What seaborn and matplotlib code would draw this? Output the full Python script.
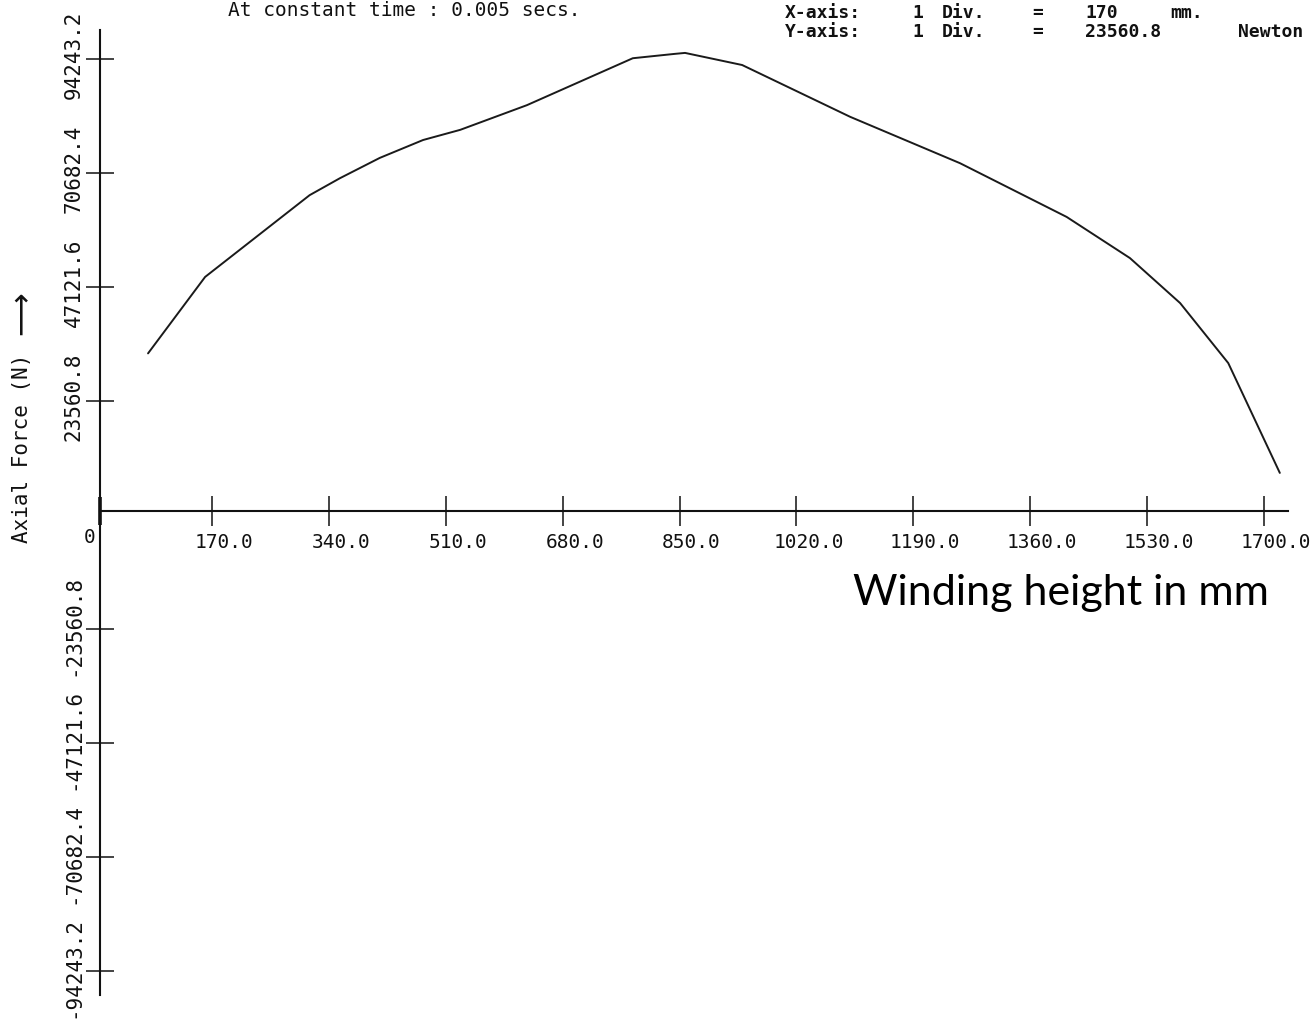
import numpy as np
import pandas as pd
import matplotlib
matplotlib.use("Agg")
import matplotlib.pyplot as plt
import matplotlib.transforms as mtransforms
import seaborn as sns

# ---------------- data ----------------
height_mm = [77, 160, 312, 356, 414, 477, 531, 628, 782, 843, 858, 941,
             1098, 1258, 1413, 1505, 1578, 1648, 1723]
axial_force_N = [33400, 49200, 66100, 69600, 73800, 77500, 79600, 84700,
                 94400, 95300, 95500, 93000, 82300, 72700, 61600, 53100,
                 43800, 31400, 8700]

x_ticks = [170, 340, 510, 680, 850, 1020, 1190, 1360, 1530, 1700]
x_tick_labels = ["170.0", "340.0", "510.0", "680.0", "850.0", "1020.0",
                 "1190.0", "1360.0", "1530.0", "1700.0"]
y_ticks = [-94243.2, -70682.4, -47121.6, -23560.8,
           23560.8, 47121.6, 70682.4, 94243.2]
y_tick_labels = ["-94243.2", "-70682.4", "-47121.6", "-23560.8",
                 "23560.8", "47121.6", "70682.4", "94243.2"]

title_text = "At constant time : 0.005 secs."
x_unit_words = ["X-axis:", "1", "Div.", "=", "170", "mm."]
y_unit_words = ["Y-axis:", "1", "Div.", "=", "23560.8", "Newton"]
y_label = "Axial Force (N)"
y_arrow = "\u27f6"
x_label = "Winding height in mm"

df = pd.DataFrame({"height": height_mm, "force": axial_force_N})

# ---------------- figure ----------------
sns.set_theme(style="white")
plt.rcParams["font.family"] = ["DejaVu Sans Mono", "DejaVu Sans"]

W, H = 1315, 1019
fig = plt.figure(figsize=(W / 100, H / 100), dpi=100)
fig.patch.set_facecolor("white")

ax_left_px, ax_right_px, ax_top_px, ax_bot_px = 100, 1288, 30, 995
ax = fig.add_axes([ax_left_px / W, 1 - ax_bot_px / H,
                   (ax_right_px - ax_left_px) / W, (ax_bot_px - ax_top_px) / H])
ax.set_facecolor("white")

x_lo, x_hi = 7.13, 1734.9
y_lo, y_hi = -99202, 100235
x_axis_y = 827

sns.lineplot(data=df, x="height", y="force", ax=ax, color="#1a1a1a",
             linewidth=1.4, sort=False)
ax.set_xlim(x_lo, x_hi)
ax.set_ylim(y_lo, y_hi)
ax.set_xlabel("")
ax.set_ylabel("")

for s in ["top", "right"]:
    ax.spines[s].set_visible(False)
ax.spines["bottom"].set_position(("data", x_axis_y))
for s in ["left", "bottom"]:
    ax.spines[s].set_color("#111111")
    ax.spines[s].set_linewidth(1.5)

ax.set_xticks(x_ticks)
ax.set_xticklabels(x_tick_labels)
ax.set_yticks(y_ticks)
ax.set_yticklabels(y_tick_labels)
ax.set_xticks([x_lo], minor=True)

ax.tick_params(axis="x", which="major", direction="inout", length=21, width=1.1,
               color="#111111", labelsize=14, pad=5, labelcolor="#111111",
               bottom=True)
ax.tick_params(axis="x", which="minor", direction="inout", length=20, width=2.6,
               color="#111111", bottom=True)
ax.tick_params(axis="y", which="major", direction="inout", length=19.5, width=1.1,
               color="#111111", labelsize=15, pad=2, labelcolor="#111111",
               left=True, labelrotation=90)

shift_x = mtransforms.ScaledTranslation(12 / 100, 0, fig.dpi_scale_trans)
for lab in ax.get_xticklabels():
    lab.set_transform(lab.get_transform() + shift_x)
shift_y = mtransforms.ScaledTranslation(0, 4 / 100, fig.dpi_scale_trans)
for lab in ax.get_yticklabels():
    lab.set_verticalalignment("center")
    lab.set_transform(lab.get_transform() + shift_y)

ax.annotate("0", xy=(0, x_axis_y), xycoords="data", xytext=(-5, -27),
            textcoords="offset pixels", ha="center", va="center",
            fontsize=14, color="#111111", annotation_clip=False)

# ---------------- texts ----------------
fig.text(228 / W, 1 - 16 / H, title_text, fontsize=14, va="baseline",
         color="#111111")

word_x = [785, 912, 942, 1032, 1085, 1170]
word_x_y = [785, 912, 942, 1032, 1085, 1238]
for wx, w in zip(word_x, x_unit_words):
    fig.text(wx / W, 1 - 18 / H, w, fontsize=13, fontweight="bold",
             va="baseline", color="#111111")
for wx, w in zip(word_x_y, y_unit_words):
    fig.text(wx / W, 1 - 37 / H, w, fontsize=13, fontweight="bold",
             va="baseline", color="#111111")

fig.text(22 / W, 1 - 448 / H, y_label, rotation=90, ha="center", va="center",
         fontsize=15, color="#111111")
fig.text(22 / W, 1 - 313 / H, y_arrow, rotation=90, ha="center", va="center",
         fontsize=22, family=["DejaVu Sans"], color="#111111")

fig.text(853 / W, 1 - 605 / H, x_label, fontsize=31, va="baseline",
         family=["Lato", "DejaVu Sans"], color="black")

fig.savefig("out.png", dpi=100, facecolor="white")
